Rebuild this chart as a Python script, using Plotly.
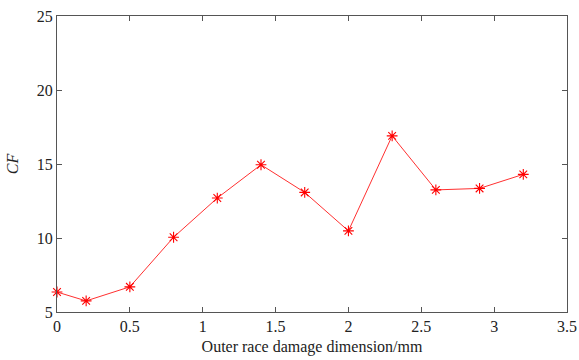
import plotly.graph_objects as go

x_mm = [0, 0.2, 0.5, 0.8, 1.1, 1.4, 1.7, 2.0, 2.3, 2.6, 2.9, 3.2]
cf = [6.35, 5.75, 6.7, 10.05, 12.7, 14.95, 13.08, 10.48, 16.9, 13.25, 13.35, 14.3]
x_ticks = [0, 0.5, 1, 1.5, 2, 2.5, 3, 3.5]
x_labels = ["0", "0.5", "1", "1.5", "2", "2.5", "3", "3.5"]
y_ticks = [5, 10, 15, 20, 25]

fig = go.Figure()
fig.add_trace(go.Scatter(
    x=x_mm, y=cf, mode="lines+markers",
    line=dict(color="#ff3030", width=1),
    marker=dict(symbol="asterisk-open", size=9, color="#ff0000",
                line=dict(color="#ff1010", width=1.1)),
    showlegend=False, cliponaxis=False,
))

axis_common = dict(
    showline=True, linecolor="#555555", linewidth=1, mirror="ticks",
    ticks="inside", ticklen=5, tickcolor="#555555", tickwidth=1,
    showgrid=False, zeroline=False, automargin=False,
    tickfont=dict(family="Liberation Serif", size=16, color="#222222"),
)

fig.update_layout(
    width=579, height=360,
    margin=dict(l=57, r=12, t=16, b=48),
    paper_bgcolor="white", plot_bgcolor="white",
    xaxis=dict(range=[0, 3.5], tickvals=x_ticks, ticktext=x_labels,
               title=dict(text="Outer race damage dimension/mm", standoff=6,
                          font=dict(family="Liberation Serif", size=16, color="#222222")),
               **axis_common),
    yaxis=dict(range=[5, 25], tickvals=y_ticks,
               title=dict(text="<i>CF</i>", standoff=14,
                          font=dict(family="Liberation Serif", size=16, color="#222222")),
               **axis_common),
)

fig.write_html("out.html")
